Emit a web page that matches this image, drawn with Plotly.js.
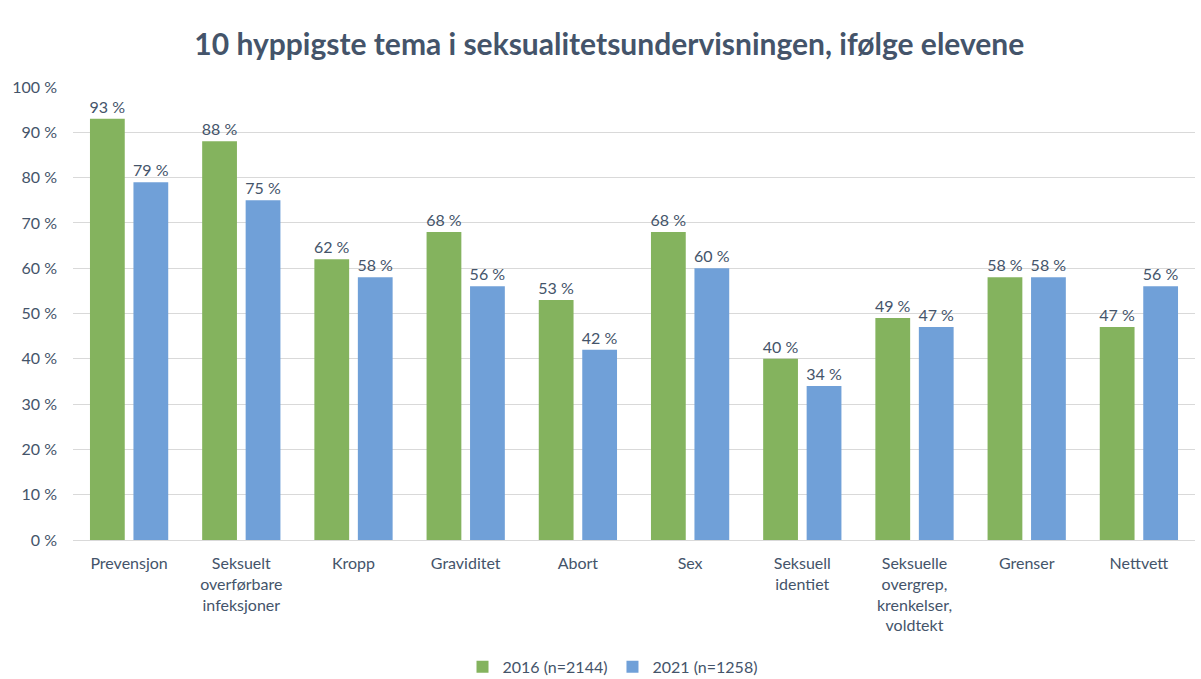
<!DOCTYPE html>
<html>
<head>
<meta charset="utf-8">
<script src="https://cdn.plot.ly/plotly-3.0.1.min.js"></script>
<style>html,body{margin:0;padding:0;background:#fff;}#chart{width:1201px;height:679px;}</style>
</head>
<body>
<div id="chart"></div>
<script>
const categories = ["Prevensjon", "Seksuelt<br>overførbare<br>infeksjoner", "Kropp", "Graviditet", "Abort", "Sex", "Seksuell<br>identiet", "Seksuelle<br>overgrep,<br>krenkelser,<br>voldtekt", "Grenser", "Nettvett"];
const values2016 = [93, 88, 62, 68, 53, 68, 40, 49, 58, 47];
const values2021 = [79, 75, 58, 56, 42, 60, 34, 47, 58, 56];
const seriesNames = ["2016 (n=2144)", "2021 (n=1258)"];
const textColor = "#44546A";
const fontFam = "Lato, 'Open Sans', sans-serif";

function mkTrace(vals, name, color) {
  return {type: "bar", x: categories, y: vals, name: name,
   marker: {color: color}, text: vals.map(v => v + " %"), texttemplate: "%{text}",
   textposition: "outside", constraintext: "none",
   textfont: {color: textColor, size: 16, family: fontFam}, cliponaxis: false};
}
const traces = [
  mkTrace(values2016, seriesNames[0], "#84B35E"),
  mkTrace(values2021, seriesNames[1], "#70A0D8")
];

const layout = {
  width: 1201, height: 679,
  margin: {l: 73, r: 6, t: 87, b: 139, autoexpand: false},
  paper_bgcolor: "#fff", plot_bgcolor: "#fff",
  font: {family: fontFam, color: textColor, size: 16},
  title: {text: "<b>10 hyppigste tema i seksualitetsundervisningen, ifølge elevene</b>",
          xref: "paper", x: 0.478, xanchor: "center", y: 0.935, yanchor: "middle",
          font: {size: 30, color: textColor, family: fontFam}},
  barmode: "group", bargap: 0.225, bargroupgap: 0.2,
  xaxis: {type: "category", showgrid: false, showline: false, ticks: "",
          tickfont: {size: 16, color: textColor}, tickangle: 0, automargin: false,
          ticklabelstandoff: 12},
  yaxis: {range: [0, 100], dtick: 10, ticksuffix: " %", showgrid: true, gridcolor: "#D9D9D9",
          gridwidth: 1, zeroline: true, zerolinecolor: "#D9D9D9", zerolinewidth: 1,
          showline: false, ticks: "", tickfont: {size: 16, color: textColor}, automargin: false,
          ticklabelstandoff: 15},
  legend: {orientation: "h", xref: "container", x: 0.51, xanchor: "center", yref: "container", y: 0.018, yanchor: "middle",
           font: {size: 16, color: textColor}, itemwidth: 30, traceorder: "normal"},
  showlegend: true
};

Plotly.newPlot("chart", traces, layout, {displayModeBar: false, staticPlot: true});
</script>
</body>
</html>
